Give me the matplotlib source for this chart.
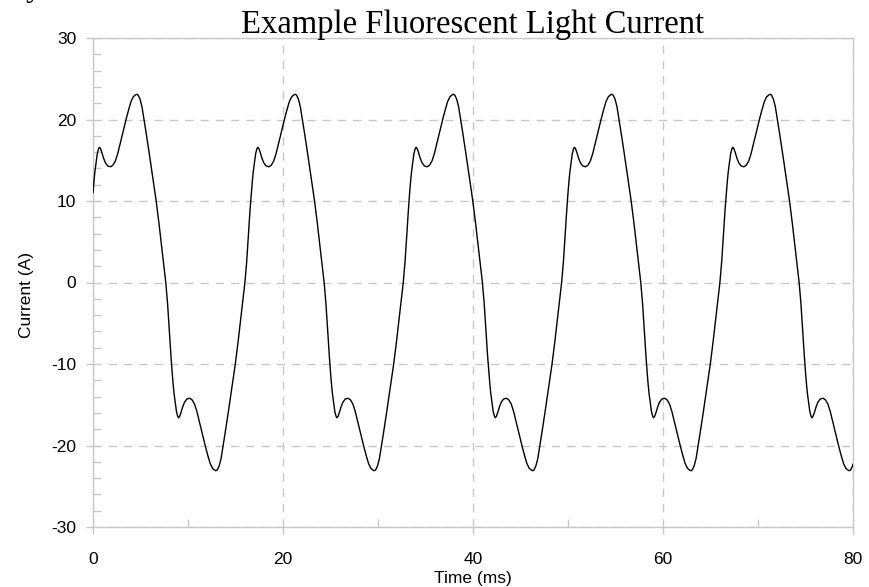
import matplotlib
matplotlib.use("Agg")
import matplotlib.pyplot as plt
from matplotlib.ticker import FixedLocator

plt.rcParams["axes.unicode_minus"] = False

# ---- data (time in ms, current in A) ----
time_ms = [
    0.00, 0.10, 0.20, 0.32, 0.45, 0.58, 0.68, 0.80, 0.95, 1.10, 1.30, 1.55, 1.85, 2.10, 2.35, 2.60, 2.85, 3.10, 3.30, 3.50, 3.75, 4.00, 4.25, 4.45, 4.60, 4.75, 4.95, 5.15, 5.37, 5.60, 5.90, 6.20, 6.50, 6.65, 6.95, 7.25, 7.50, 7.66, 7.85, 8.05, 8.20,
    8.33, 8.43, 8.53, 8.65, 8.78, 8.91, 9.01, 9.13, 9.28, 9.43, 9.63, 9.88, 10.18, 10.43, 10.68, 10.93, 11.18, 11.43, 11.63, 11.83, 12.08, 12.33, 12.58, 12.78, 12.93, 13.08, 13.28, 13.48, 13.70, 13.93, 14.23, 14.53, 14.83, 14.98, 15.28, 15.58, 15.83, 15.99, 16.18, 16.38, 16.53,
    16.67, 16.77, 16.87, 16.99, 17.12, 17.25, 17.35, 17.47, 17.62, 17.77, 17.97, 18.22, 18.52, 18.77, 19.02, 19.27, 19.52, 19.77, 19.97, 20.17, 20.42, 20.67, 20.92, 21.12, 21.27, 21.42, 21.62, 21.82, 22.04, 22.27, 22.57, 22.87, 23.17, 23.32, 23.62, 23.92, 24.17, 24.33, 24.52, 24.72, 24.87,
    25.00, 25.10, 25.20, 25.32, 25.45, 25.58, 25.68, 25.80, 25.95, 26.10, 26.30, 26.55, 26.85, 27.10, 27.35, 27.60, 27.85, 28.10, 28.30, 28.50, 28.75, 29.00, 29.25, 29.45, 29.60, 29.75, 29.95, 30.15, 30.37, 30.60, 30.90, 31.20, 31.50, 31.65, 31.95, 32.25, 32.50, 32.66, 32.85, 33.05, 33.20,
    33.33, 33.43, 33.53, 33.65, 33.78, 33.91, 34.01, 34.13, 34.28, 34.43, 34.63, 34.88, 35.18, 35.43, 35.68, 35.93, 36.18, 36.43, 36.63, 36.83, 37.08, 37.33, 37.58, 37.78, 37.93, 38.08, 38.28, 38.48, 38.70, 38.93, 39.23, 39.53, 39.83, 39.98, 40.28, 40.58, 40.83, 40.99, 41.18, 41.38, 41.53,
    41.67, 41.77, 41.87, 41.99, 42.12, 42.25, 42.35, 42.47, 42.62, 42.77, 42.97, 43.22, 43.52, 43.77, 44.02, 44.27, 44.52, 44.77, 44.97, 45.17, 45.42, 45.67, 45.92, 46.12, 46.27, 46.42, 46.62, 46.82, 47.04, 47.27, 47.57, 47.87, 48.17, 48.32, 48.62, 48.92, 49.17, 49.33, 49.52, 49.72, 49.87,
    50.00, 50.10, 50.20, 50.32, 50.45, 50.58, 50.68, 50.80, 50.95, 51.10, 51.30, 51.55, 51.85, 52.10, 52.35, 52.60, 52.85, 53.10, 53.30, 53.50, 53.75, 54.00, 54.25, 54.45, 54.60, 54.75, 54.95, 55.15, 55.37, 55.60, 55.90, 56.20, 56.50, 56.65, 56.95, 57.25, 57.50, 57.66, 57.85, 58.05, 58.20,
    58.33, 58.43, 58.53, 58.65, 58.78, 58.91, 59.01, 59.13, 59.28, 59.43, 59.63, 59.88, 60.18, 60.43, 60.68, 60.93, 61.18, 61.43, 61.63, 61.83, 62.08, 62.33, 62.58, 62.78, 62.93, 63.08, 63.28, 63.48, 63.70, 63.93, 64.23, 64.53, 64.83, 64.98, 65.28, 65.58, 65.83, 65.99, 66.18, 66.38, 66.53,
    66.67, 66.77, 66.87, 66.99, 67.12, 67.25, 67.35, 67.47, 67.62, 67.77, 67.97, 68.22, 68.52, 68.77, 69.02, 69.27, 69.52, 69.77, 69.97, 70.17, 70.42, 70.67, 70.92, 71.12, 71.27, 71.42, 71.62, 71.82, 72.04, 72.27, 72.57, 72.87, 73.17, 73.32, 73.62, 73.92, 74.17, 74.33, 74.52, 74.72, 74.87,
    75.00, 75.10, 75.20, 75.32, 75.45, 75.58, 75.68, 75.80, 75.95, 76.10, 76.30, 76.55, 76.85, 77.10, 77.35, 77.60, 77.85, 78.10, 78.30, 78.50, 78.75, 79.00, 79.25, 79.45, 79.60, 79.75, 79.95, 80.00,
]

current_a = [
    11.0, 12.4, 13.6, 14.7, 15.8, 16.4, 16.6, 16.4, 15.9, 15.3, 14.7, 14.3, 14.2, 14.4, 14.9, 15.8, 17.0, 18.2, 19.2, 20.1, 21.2, 22.2, 22.8, 23.0, 23.1, 23.0, 22.5, 21.6, 20.0, 18.3, 16.0, 13.6, 11.2, 10.0, 7.2, 4.2, 1.6, 0.0, -2.6, -6.2, -8.9,
    -11.0, -12.4, -13.6, -14.7, -15.8, -16.4, -16.6, -16.4, -15.9, -15.3, -14.7, -14.3, -14.2, -14.4, -14.9, -15.8, -17.0, -18.2, -19.2, -20.1, -21.2, -22.2, -22.8, -23.0, -23.1, -23.0, -22.5, -21.6, -20.0, -18.3, -16.0, -13.6, -11.2, -10.0, -7.2, -4.2, -1.6, 0.0, 2.6, 6.2, 8.9,
    11.0, 12.4, 13.6, 14.7, 15.8, 16.4, 16.6, 16.4, 15.9, 15.3, 14.7, 14.3, 14.2, 14.4, 14.9, 15.8, 17.0, 18.2, 19.2, 20.1, 21.2, 22.2, 22.8, 23.0, 23.1, 23.0, 22.5, 21.6, 20.0, 18.3, 16.0, 13.6, 11.2, 10.0, 7.2, 4.2, 1.6, 0.0, -2.6, -6.2, -8.9,
    -11.0, -12.4, -13.6, -14.7, -15.8, -16.4, -16.6, -16.4, -15.9, -15.3, -14.7, -14.3, -14.2, -14.4, -14.9, -15.8, -17.0, -18.2, -19.2, -20.1, -21.2, -22.2, -22.8, -23.0, -23.1, -23.0, -22.5, -21.6, -20.0, -18.3, -16.0, -13.6, -11.2, -10.0, -7.2, -4.2, -1.6, 0.0, 2.6, 6.2, 8.9,
    11.0, 12.4, 13.6, 14.7, 15.8, 16.4, 16.6, 16.4, 15.9, 15.3, 14.7, 14.3, 14.2, 14.4, 14.9, 15.8, 17.0, 18.2, 19.2, 20.1, 21.2, 22.2, 22.8, 23.0, 23.1, 23.0, 22.5, 21.6, 20.0, 18.3, 16.0, 13.6, 11.2, 10.0, 7.2, 4.2, 1.6, 0.0, -2.6, -6.2, -8.9,
    -11.0, -12.4, -13.6, -14.7, -15.8, -16.4, -16.6, -16.4, -15.9, -15.3, -14.7, -14.3, -14.2, -14.4, -14.9, -15.8, -17.0, -18.2, -19.2, -20.1, -21.2, -22.2, -22.8, -23.0, -23.1, -23.0, -22.5, -21.6, -20.0, -18.3, -16.0, -13.6, -11.2, -10.0, -7.2, -4.2, -1.6, 0.0, 2.6, 6.2, 8.9,
    11.0, 12.4, 13.6, 14.7, 15.8, 16.4, 16.6, 16.4, 15.9, 15.3, 14.7, 14.3, 14.2, 14.4, 14.9, 15.8, 17.0, 18.2, 19.2, 20.1, 21.2, 22.2, 22.8, 23.0, 23.1, 23.0, 22.5, 21.6, 20.0, 18.3, 16.0, 13.6, 11.2, 10.0, 7.2, 4.2, 1.6, 0.0, -2.6, -6.2, -8.9,
    -11.0, -12.4, -13.6, -14.7, -15.8, -16.4, -16.6, -16.4, -15.9, -15.3, -14.7, -14.3, -14.2, -14.4, -14.9, -15.8, -17.0, -18.2, -19.2, -20.1, -21.2, -22.2, -22.8, -23.0, -23.1, -23.0, -22.5, -21.6, -20.0, -18.3, -16.0, -13.6, -11.2, -10.0, -7.2, -4.2, -1.6, 0.0, 2.6, 6.2, 8.9,
    11.0, 12.4, 13.6, 14.7, 15.8, 16.4, 16.6, 16.4, 15.9, 15.3, 14.7, 14.3, 14.2, 14.4, 14.9, 15.8, 17.0, 18.2, 19.2, 20.1, 21.2, 22.2, 22.8, 23.0, 23.1, 23.0, 22.5, 21.6, 20.0, 18.3, 16.0, 13.6, 11.2, 10.0, 7.2, 4.2, 1.6, 0.0, -2.6, -6.2, -8.9,
    -11.0, -12.4, -13.6, -14.7, -15.8, -16.4, -16.6, -16.4, -15.9, -15.3, -14.7, -14.3, -14.2, -14.4, -14.9, -15.8, -17.0, -18.2, -19.2, -20.1, -21.2, -22.2, -22.8, -23.0, -23.1, -23.0, -22.5, -22.3,
]

x_ticks = [0, 20, 40, 60, 80]
y_ticks = [-30, -20, -10, 0, 10, 20, 30]
title_text = "Example Fluorescent Light Current"
x_label = "Time (ms)"
y_label = "Current (A)"
stray_glyph = "y"

# ---- figure ----
W, H = 869, 587
fig = plt.figure(figsize=(W / 100, H / 100), dpi=100)
left, right, top, bottom = 93, 853, 38, 527
ax = fig.add_axes([left / W, 1 - bottom / H, (right - left) / W, (bottom - top) / H])

GRAY = "#c8c8c8"
ax.plot(time_ms, current_a, color="black", lw=1.0, zorder=3)

ax.set_xlim(0, 80)
ax.set_ylim(-30, 30)
ax.set_xticks(x_ticks)
ax.set_yticks(y_ticks)
ax.xaxis.set_minor_locator(FixedLocator([10, 30, 50, 70]))
ax.yaxis.set_minor_locator(FixedLocator([v for v in range(-28, 30, 2) if v % 10 != 0]))

for s in ax.spines.values():
    s.set_color(GRAY)
    s.set_linewidth(1.0)

ax.grid(True, which="major", color=GRAY, lw=1.0, linestyle=(0, (6, 5)))
ax.tick_params(which="major", direction="out", length=5, width=1.0, color=GRAY,
               labelsize=12.5, labelcolor="black")
ax.tick_params(axis="x", which="major", pad=13)
ax.tick_params(axis="y", which="major", pad=7)
ax.tick_params(which="minor", direction="in", length=5.5, width=1.0, color=GRAY)
for lab in ax.get_xticklabels() + ax.get_yticklabels():
    lab.set_family(["Liberation Sans", "DejaVu Sans"])

fig.text(473 / W, 1 - 578 / H, x_label, ha="center", va="center", fontsize=12.5,
         family=["Liberation Sans", "DejaVu Sans"])
fig.text(27 / W, 1 - 295 / H, y_label, ha="center", va="center", rotation=90,
         fontsize=12.5, family=["Liberation Sans", "DejaVu Sans"])
fig.text(473 / W, 1 - 33 / H, title_text, ha="center", va="baseline", fontsize=23.5,
         family=["Liberation Serif", "DejaVu Serif"])
# fragment of a glyph cut off at the top-left edge of the reference image
fig.text(26 / W, 1 + 4 / H, stray_glyph, ha="left", va="baseline", fontsize=23.5,
         family=["Liberation Serif", "DejaVu Serif"])

fig.savefig("out.png", dpi=100)
